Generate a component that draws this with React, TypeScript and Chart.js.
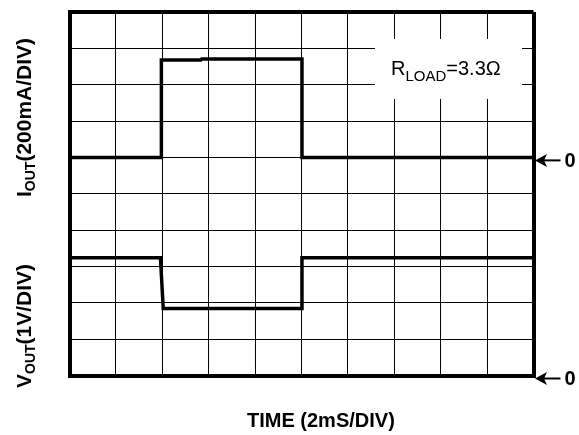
import React, { useEffect, useRef } from "react";
import { Chart, registerables } from "chart.js";

Chart.register(...registerables);

// Time axis: 2 ms per division, 10 divisions
const timeMin = 0;
const timeMax = 20;
const timeStep = 2;

// Output current trace (mA), 200 mA/div, zero at 6th division
const timeMsI = [0, 3.96, 3.96, 5.66, 5.7, 10.02, 10.02, 20];
const currentMa = [0, 0, 536, 536, 542, 542, 0, 0];
const currentMin = -1200;
const currentMax = 800;

// Output voltage trace (V), 1 V/div, zero at bottom
const timeMsV = [0, 3.92, 4.04, 10.02, 10.02, 20];
const voltageV = [3.24, 3.24, 1.84, 1.84, 3.24, 3.24];
const voltageMin = 0;
const voltageMax = 10;

const xTitle = "TIME (2mS/DIV)";
const iTitleMain = "I";
const iTitleSub = "OUT";
const iTitleRest = "(200mA/DIV)";
const vTitleMain = "V";
const vTitleSub = "OUT";
const vTitleRest = "(1V/DIV)";
const loadMain = "R";
const loadSub = "LOAD";
const loadRest = "=3.3Ω";
const zeroLabel = "0";

const FONT = '"Liberation Sans", Arial, Helvetica, sans-serif';

type Seg = { text: string; font: string; dy: number };

function drawSegs(ctx: CanvasRenderingContext2D, segs: Seg[], x: number, y: number) {
  let cx = x;
  for (const s of segs) {
    ctx.font = s.font;
    ctx.fillText(s.text, cx, y + s.dy);
    cx += ctx.measureText(s.text).width;
  }
}

const annotPlugin = {
  id: "annot",
  beforeDatasetsDraw(chart: any) {
    const ctx = chart.ctx as CanvasRenderingContext2D;
    // white box behind the load label
    ctx.save();
    ctx.fillStyle = "#fff";
    ctx.fillRect(375, 39, 147, 60);
    ctx.restore();
  },
  afterDraw(chart: any) {
    const ctx = chart.ctx as CanvasRenderingContext2D;
    const area = chart.chartArea;
    const yI = chart.scales.yI;
    const yV = chart.scales.yV;
    ctx.save();
    ctx.fillStyle = "#000";
    ctx.strokeStyle = "#000";
    ctx.textAlign = "left";
    ctx.textBaseline = "alphabetic";

    // load label
    drawSegs(
      ctx,
      [
        { text: loadMain, font: `20px ${FONT}`, dy: 0 },
        { text: loadSub, font: `15px ${FONT}`, dy: 6 },
        { text: loadRest, font: `20px ${FONT}`, dy: 0 },
      ],
      391,
      75
    );

    // x title
    ctx.font = `bold 20px ${FONT}`;
    ctx.fillText(xTitle, 247, 427);

    // rotated y titles
    const rot = (segs: Seg[], x: number, y: number) => {
      ctx.save();
      ctx.translate(x, y);
      ctx.rotate(-Math.PI / 2);
      drawSegs(ctx, segs, 0, 0);
      ctx.restore();
    };
    rot(
      [
        { text: iTitleMain, font: `bold 21px ${FONT}`, dy: 0 },
        { text: iTitleSub, font: `bold 14px ${FONT}`, dy: 4 },
        { text: iTitleRest, font: `bold 21px ${FONT}`, dy: 0 },
      ],
      31,
      197
    );
    rot(
      [
        { text: vTitleMain, font: `bold 21px ${FONT}`, dy: 0 },
        { text: vTitleSub, font: `bold 14px ${FONT}`, dy: 4 },
        { text: vTitleRest, font: `bold 21px ${FONT}`, dy: 0 },
      ],
      31,
      388
    );

    // zero markers
    const marker = (py: number) => {
      const y = py + 3;
      const tip = area.right + 1.5;
      ctx.lineWidth = 2;
      ctx.beginPath();
      ctx.moveTo(tip + 8, y);
      ctx.lineTo(area.right + 27, y);
      ctx.stroke();
      ctx.beginPath();
      ctx.moveTo(tip, y);
      ctx.lineTo(tip + 12, y - 6.5);
      ctx.lineTo(tip + 9, y);
      ctx.lineTo(tip + 12, y + 6.5);
      ctx.closePath();
      ctx.fill();
      ctx.font = `bold 20px ${FONT}`;
      ctx.textBaseline = "middle";
      ctx.fillText(zeroLabel, area.right + 31, y + 1);
      ctx.textBaseline = "alphabetic";
    };
    marker(yI.getPixelForValue(0));
    marker(yV.getPixelForValue(0));
    ctx.restore();
  },
};

export default function App() {
  const ref = useRef<HTMLCanvasElement | null>(null);
  useEffect(() => {
    if (!ref.current) return;
    const edgeWidth = (min: number, max: number) => (c: any) =>
      c.tick && (c.tick.value === min || c.tick.value === max) ? 4 : 1;
    const chart = new Chart(ref.current, {
      type: "line",
      data: {
        datasets: [
          {
            label: "IOUT",
            data: timeMsI.map((t, i) => ({ x: t, y: currentMa[i] })),
            yAxisID: "yI",
            borderColor: "#000",
            borderWidth: 3.5,
            pointRadius: 0,
            tension: 0,
            borderJoinStyle: "miter",
          },
          {
            label: "VOUT",
            data: timeMsV.map((t, i) => ({ x: t, y: voltageV[i] })),
            yAxisID: "yV",
            borderColor: "#000",
            borderWidth: 3.5,
            pointRadius: 0,
            tension: 0,
            borderJoinStyle: "miter",
          },
        ],
      },
      options: {
        animation: false,
        responsive: false,
        devicePixelRatio: 1,
        layout: { padding: { left: 69.5, right: 45.5, top: 12, bottom: 59.5 } },
        plugins: { legend: { display: false }, tooltip: { enabled: false } },
        scales: {
          x: {
            type: "linear",
            min: timeMin,
            max: timeMax,
            ticks: { display: false, stepSize: timeStep },
            grid: { color: "#000", lineWidth: edgeWidth(timeMin, timeMax), drawTicks: false },
            border: { display: true, color: "#000", width: 4 },
          },
          yV: {
            type: "linear",
            position: "left",
            min: voltageMin,
            max: voltageMax,
            ticks: { display: false, stepSize: 1 },
            grid: { color: "#000", lineWidth: edgeWidth(voltageMin, voltageMax), drawTicks: false },
            border: { display: true, color: "#000", width: 4 },
          },
          yI: {
            type: "linear",
            position: "right",
            min: currentMin,
            max: currentMax,
            display: false,
          },
        },
      },
      plugins: [annotPlugin],
    } as any);
    return () => chart.destroy();
  }, []);
  return (
    <div style={{ position: "absolute", left: 0, top: 0, width: 579, height: 435, background: "#fff" }}>
      <canvas ref={ref} width={579} height={435} style={{ display: "block" }} />
    </div>
  );
}
